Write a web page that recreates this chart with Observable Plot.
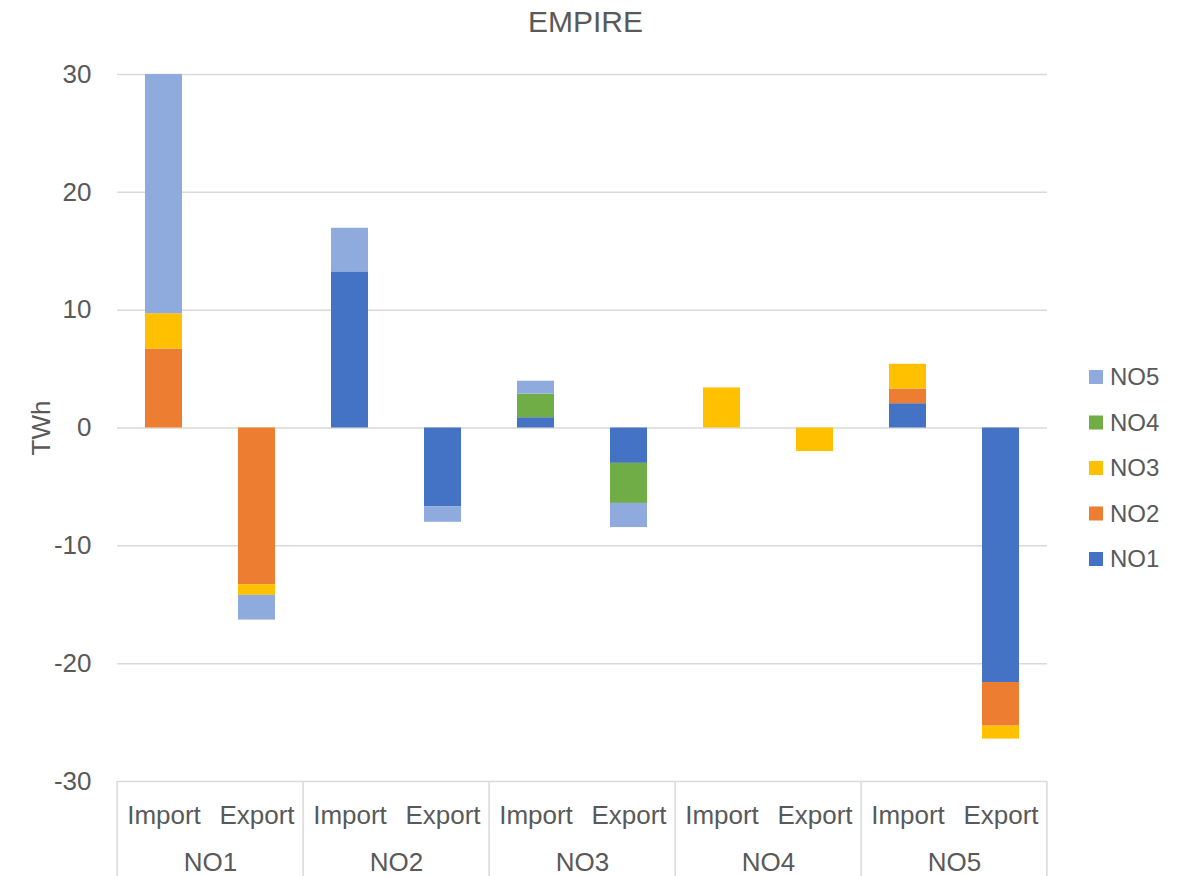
<!DOCTYPE html>
<html>
<head>
<meta charset="utf-8">
<script src="https://cdn.jsdelivr.net/npm/d3@7"></script>
<script src="https://cdn.jsdelivr.net/npm/@observablehq/plot@0.6"></script>
<style>
  html, body { margin: 0; padding: 0; background: #ffffff; }
  #chart svg { display: block; }
</style>
</head>
<body>
<div id="chart"></div>
<script>
// Price areas and flow directions along the x axis
const regions = ["NO1", "NO2", "NO3", "NO4", "NO5"];
const flows = ["Import", "Export"];

// Counterpart areas (stack series) and their colours
const series = ["NO1", "NO2", "NO3", "NO4", "NO5"];
const seriesColors = ["#4472C4", "#ED7D31", "#FFC000", "#70AD47", "#8FAADC"];

// TWh per bar, in order: NO1 Import, NO1 Export, NO2 Import, NO2 Export, ... NO5 Export
const fromNO1 = [0, 0, 13.25, -6.7, 0.87, -3.0, 0, 0, 2.06, -21.6];
const fromNO2 = [6.7, -13.3, 0, 0, 0, 0, 0, 0, 1.25, -3.7];
const fromNO3 = [3.0, -0.9, 0, 0, 0, 0, 3.4, -2.0, 2.1, -1.1];
const fromNO4 = [0, 0, 0, 0, 2.0, -3.4, 0, 0, 0, 0];
const fromNO5 = [20.3, -2.1, 3.7, -1.3, 1.1, -2.05, 0, 0, 0, 0];

const yTicks = [-30, -20, -10, 0, 10, 20, 30];
const title = "EMPIRE";
const yLabel = "TWh";

const valuesBySeries = [fromNO1, fromNO2, fromNO3, fromNO4, fromNO5];
const keys = regions.flatMap(r => flows.map(f => `${r} ${f}`));
const rows = [];
keys.forEach((key, i) => {
  series.forEach((s, j) => {
    const v = valuesBySeries[j][i];
    if (v !== 0) rows.push({key, series: s, value: v});
  });
});

const W = 1191, H = 876;
const mL = 117, mR = 144, mT = 74, mB = 95;
const step = (W - mL - mR) / keys.length;
const font = "'Liberation Sans', Arial, sans-serif";
const textColor = "#595959";
const gridColor = "#d9d9d9";
const labelSize = 26;

const chart = Plot.plot({
  width: W,
  height: H,
  marginLeft: mL,
  marginRight: mR,
  marginTop: mT,
  marginBottom: mB,
  style: {fontFamily: font, fontSize: `${labelSize}px`, color: textColor, background: "#ffffff"},
  x: {domain: keys, paddingInner: 0.6, paddingOuter: 0.3, axis: null},
  y: {domain: [-30, 30]},
  color: {domain: series, range: seriesColors},
  marks: [
    Plot.ruleY(yTicks, {stroke: gridColor, strokeWidth: 1.5}),
    Plot.barY(rows, Plot.stackY({order: series}, {x: "key", y: "value", fill: "series"})),
    Plot.axisY(yTicks, {
      tickSize: 0, tickPadding: 26, fontSize: labelSize,
      tickFormat: d => String(d),
      label: yLabel, labelAnchor: "center", labelArrow: "none", labelOffset: 86
    }),
    Plot.text(keys, {
      x: d => d, text: d => d.split(" ")[1],
      frameAnchor: "bottom", lineAnchor: "middle", dy: 34,
      fontSize: labelSize, fill: textColor
    }),
    Plot.text(regions, {
      x: r => `${r} Import`, text: d => d,
      frameAnchor: "bottom", lineAnchor: "middle", dy: 81, dx: step / 2,
      fontSize: labelSize, fill: textColor
    }),
    Plot.text([title], {frameAnchor: "top", lineAnchor: "middle", dy: -52, dx: 3, fontSize: 30, fill: textColor})
  ]
});

document.getElementById("chart").appendChild(chart);

// Group separators below the category axis, derived from the band scale
const svg = d3.select(chart);
const xs = chart.scale("x");
const ys = chart.scale("y");
const edge = xs.paddingOuter * xs.step;
const bounds = regions.map(r => xs.apply(`${r} Import`) - edge);
bounds.push(xs.apply(keys[keys.length - 1]) + xs.bandwidth + edge);
svg.append("g")
  .selectAll("line")
  .data(bounds)
  .join("line")
  .attr("x1", d => d).attr("x2", d => d)
  .attr("y1", ys.apply(-30)).attr("y2", H)
  .attr("stroke", gridColor)
  .attr("stroke-width", 1.5);

// Legend, top entry is the last series
const color = chart.scale("color");
const legendX = xs.range[1] + 42;
const legendTop = 377;
const rowGap = 45.5;
const legend = svg.append("g")
  .attr("font-family", font)
  .attr("font-size", 24)
  .attr("text-anchor", "start")
  .attr("fill", textColor);
series.slice().reverse().forEach((s, i) => {
  const cy = legendTop + i * rowGap;
  legend.append("rect")
    .attr("x", legendX).attr("y", cy - 7)
    .attr("width", 14).attr("height", 14)
    .attr("fill", color.apply(s));
  legend.append("text")
    .attr("x", legendX + 21).attr("y", cy)
    .attr("dy", "0.35em")
    .text(s);
});
</script>
</body>
</html>
